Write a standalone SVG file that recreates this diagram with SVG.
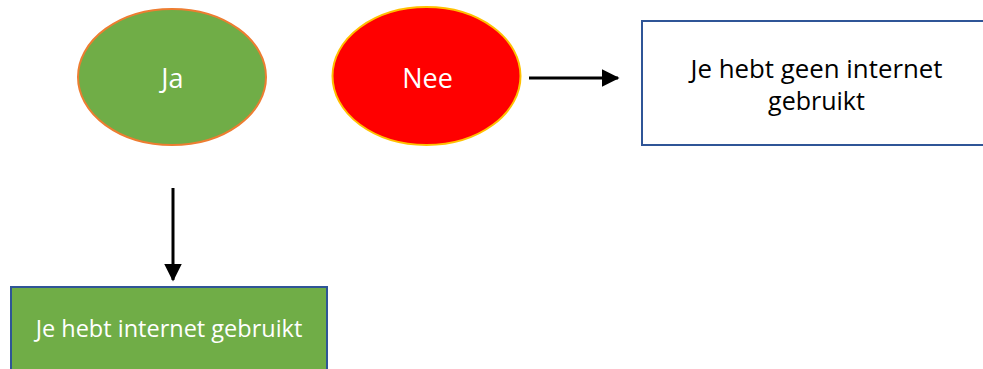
<svg xmlns="http://www.w3.org/2000/svg" width="983" height="369" viewBox="0 0 983 369">
<defs>
<style>
.t{font-family:"Open Sans","Noto Sans",sans-serif;text-anchor:middle}
.w{fill:#ffffff}
.k{fill:#000000}
.box{stroke:#2F5597;stroke-width:2}
.conn{stroke:#000000;stroke-width:3;fill:none}
</style>
<marker id="ah" markerWidth="6" markerHeight="6" refX="5.5" refY="3" orient="auto" markerUnits="strokeWidth">
<path d="M0,0 L6,3 L0,6 Z" fill="#000000"/>
</marker>
</defs>
<rect width="983" height="369" fill="#ffffff"/>
<g id="ja">
<ellipse cx="172" cy="77" rx="94" ry="68" fill="#70AD47" stroke="#ED7D31" stroke-width="2"/>
<text class="t w" x="172.5" y="88" font-size="27">Ja</text>
</g>
<g id="nee">
<ellipse cx="426.5" cy="76" rx="94" ry="69" fill="#FF0000" stroke="#FFC000" stroke-width="2"/>
<text class="t w" x="427.5" y="88" font-size="27">Nee</text>
</g>
<g id="geen">
<rect class="box" x="642" y="21" width="360" height="124" fill="#ffffff"/>
<text class="t k" x="816.5" y="78" font-size="25" textLength="252" lengthAdjust="spacingAndGlyphs">Je hebt geen internet</text>
<text class="t k" x="816.5" y="110" font-size="25">gebruikt</text>
</g>
<g id="wel">
<rect class="box" x="11" y="287" width="316" height="100" fill="#70AD47"/>
<text class="t w" x="169" y="337" font-size="23.5">Je hebt internet gebruikt</text>
</g>
<g id="connectors">
<line class="conn" x1="529" y1="78" x2="618" y2="78" marker-end="url(#ah)"/>
<line class="conn" x1="173" y1="188" x2="173" y2="280" marker-end="url(#ah)"/>
</g>
</svg>
